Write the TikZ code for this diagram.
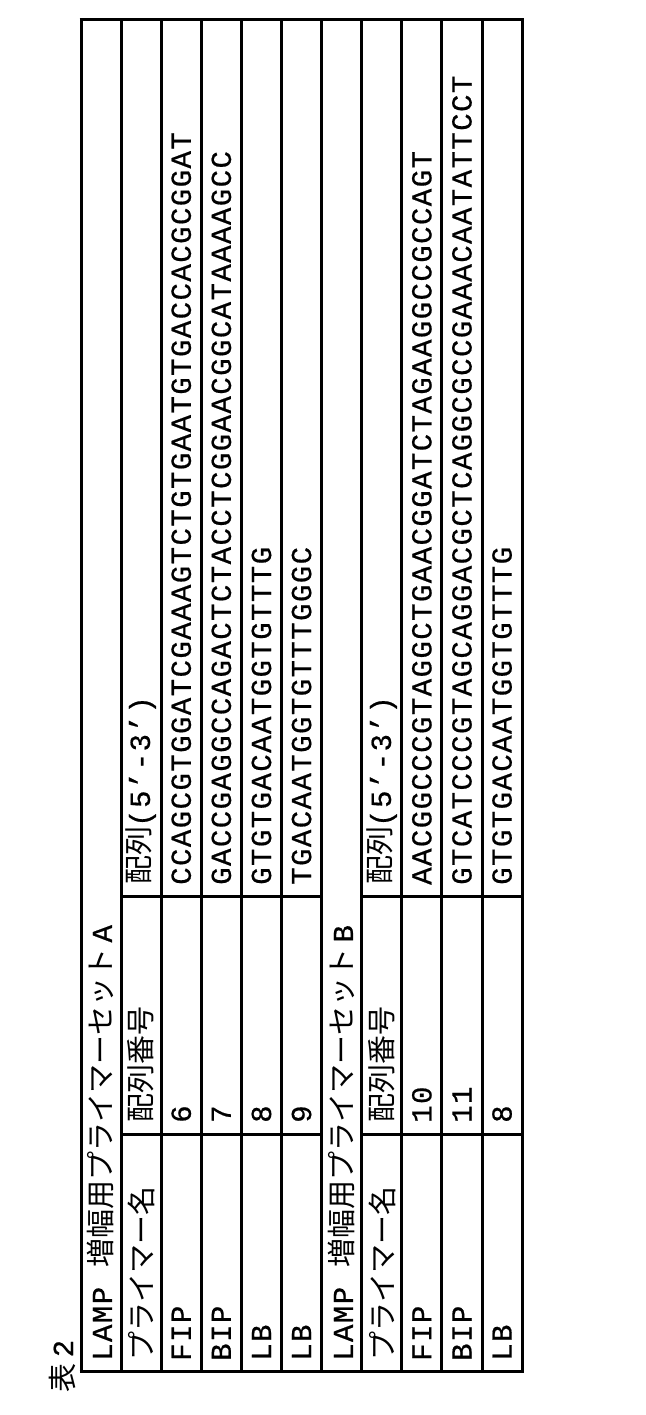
\documentclass[tikz,border=0pt]{standalone}
\usepackage{fontspec}
\newfontfamily\cjk{Noto Sans CJK JP}
\newfontfamily\seqfont[LetterSpace=5,FakeBold=0.6]{Liberation Mono}
\begin{document}
\begin{tikzpicture}[x=1pt,y=1pt,
		grid/.style={line width=3pt},
		cell/.style={rotate=90,anchor=west,inner sep=0pt,font=\fontsize{29}{29}\selectfont}]
	\useasboundingbox (0,0) rectangle (645,1415);
	% caption
	\node (caption) [cell] at (62,22) {\cjk 表 \seqfont 2};
	% grid
	\foreach \i in {0,...,11}
		\draw [grid] ({81+40.1*\i},43) -- ({81+40.1*\i},1395);
	\draw [grid] (79.5,1395) -- (523.6,1395);
	\draw [grid] (79.5,43) -- (523.6,43);
	\foreach \y in {280,518} {
		\draw [grid] (121.1,\y) -- (321.6,\y);
		\draw [grid] (361.7,\y) -- (522.1,\y);
	}
	% set A
	\node (titleA) [cell] at (101,54) {\seqfont LAMP \cjk 増幅用プライマーセット \seqfont A};
	\node (nameA) [cell] at (141,54) {\cjk プライマー名};
	\node (noA) [cell] at (141,292) {\cjk 配列番号};
	\node (seqA) [cell] at (141,530) {\cjk 配列\seqfont(5’-3’)};
	\foreach \n/\no/\s [count=\r from 2] in {
		FIP/6/CCAGCGTGGATCGAAAGTCTGTGAATGTGACCACGCGGAT,
		BIP/7/GACCGAGGCCAGACTCTACCTCGGAACGGCATAAAAGCC,
		LB/8/GTGTGACAATGGTGTTTG,
		LB/9/TGACAATGGTGTTTGGGC} {
		\node (nameA\r) [cell] at ({81+40.1*(\r+0.5)},54) {\seqfont\n};
		\node (noA\r) [cell] at ({81+40.1*(\r+0.5)},292) {\seqfont\no};
		\node (seqA\r) [cell] at ({81+40.1*(\r+0.5)},530) {\seqfont\s};
	}
	% set B
	\node (titleB) [cell] at (342,54) {\seqfont LAMP \cjk 増幅用プライマーセット \seqfont B};
	\node (nameB) [cell] at (382,54) {\cjk プライマー名};
	\node (noB) [cell] at (382,292) {\cjk 配列番号};
	\node (seqB) [cell] at (382,530) {\cjk 配列\seqfont(5’-3’)};
	\foreach \n/\no/\s [count=\r from 8] in {
		FIP/10/AACGGCCCGTAGGCTGAACGGATCTAGAAGGCCGCCAGT,
		BIP/11/GTCATCCCGTAGCAGGACGCTCAGGCGCCGAAACAATATTCCT,
		LB/8/GTGTGACAATGGTGTTTG} {
		\node (nameB\r) [cell] at ({81+40.1*(\r+0.5)},54) {\seqfont\n};
		\node (noB\r) [cell] at ({81+40.1*(\r+0.5)},292) {\seqfont\no};
		\node (seqB\r) [cell] at ({81+40.1*(\r+0.5)},530) {\seqfont\s};
	}
\end{tikzpicture}
\end{document}
